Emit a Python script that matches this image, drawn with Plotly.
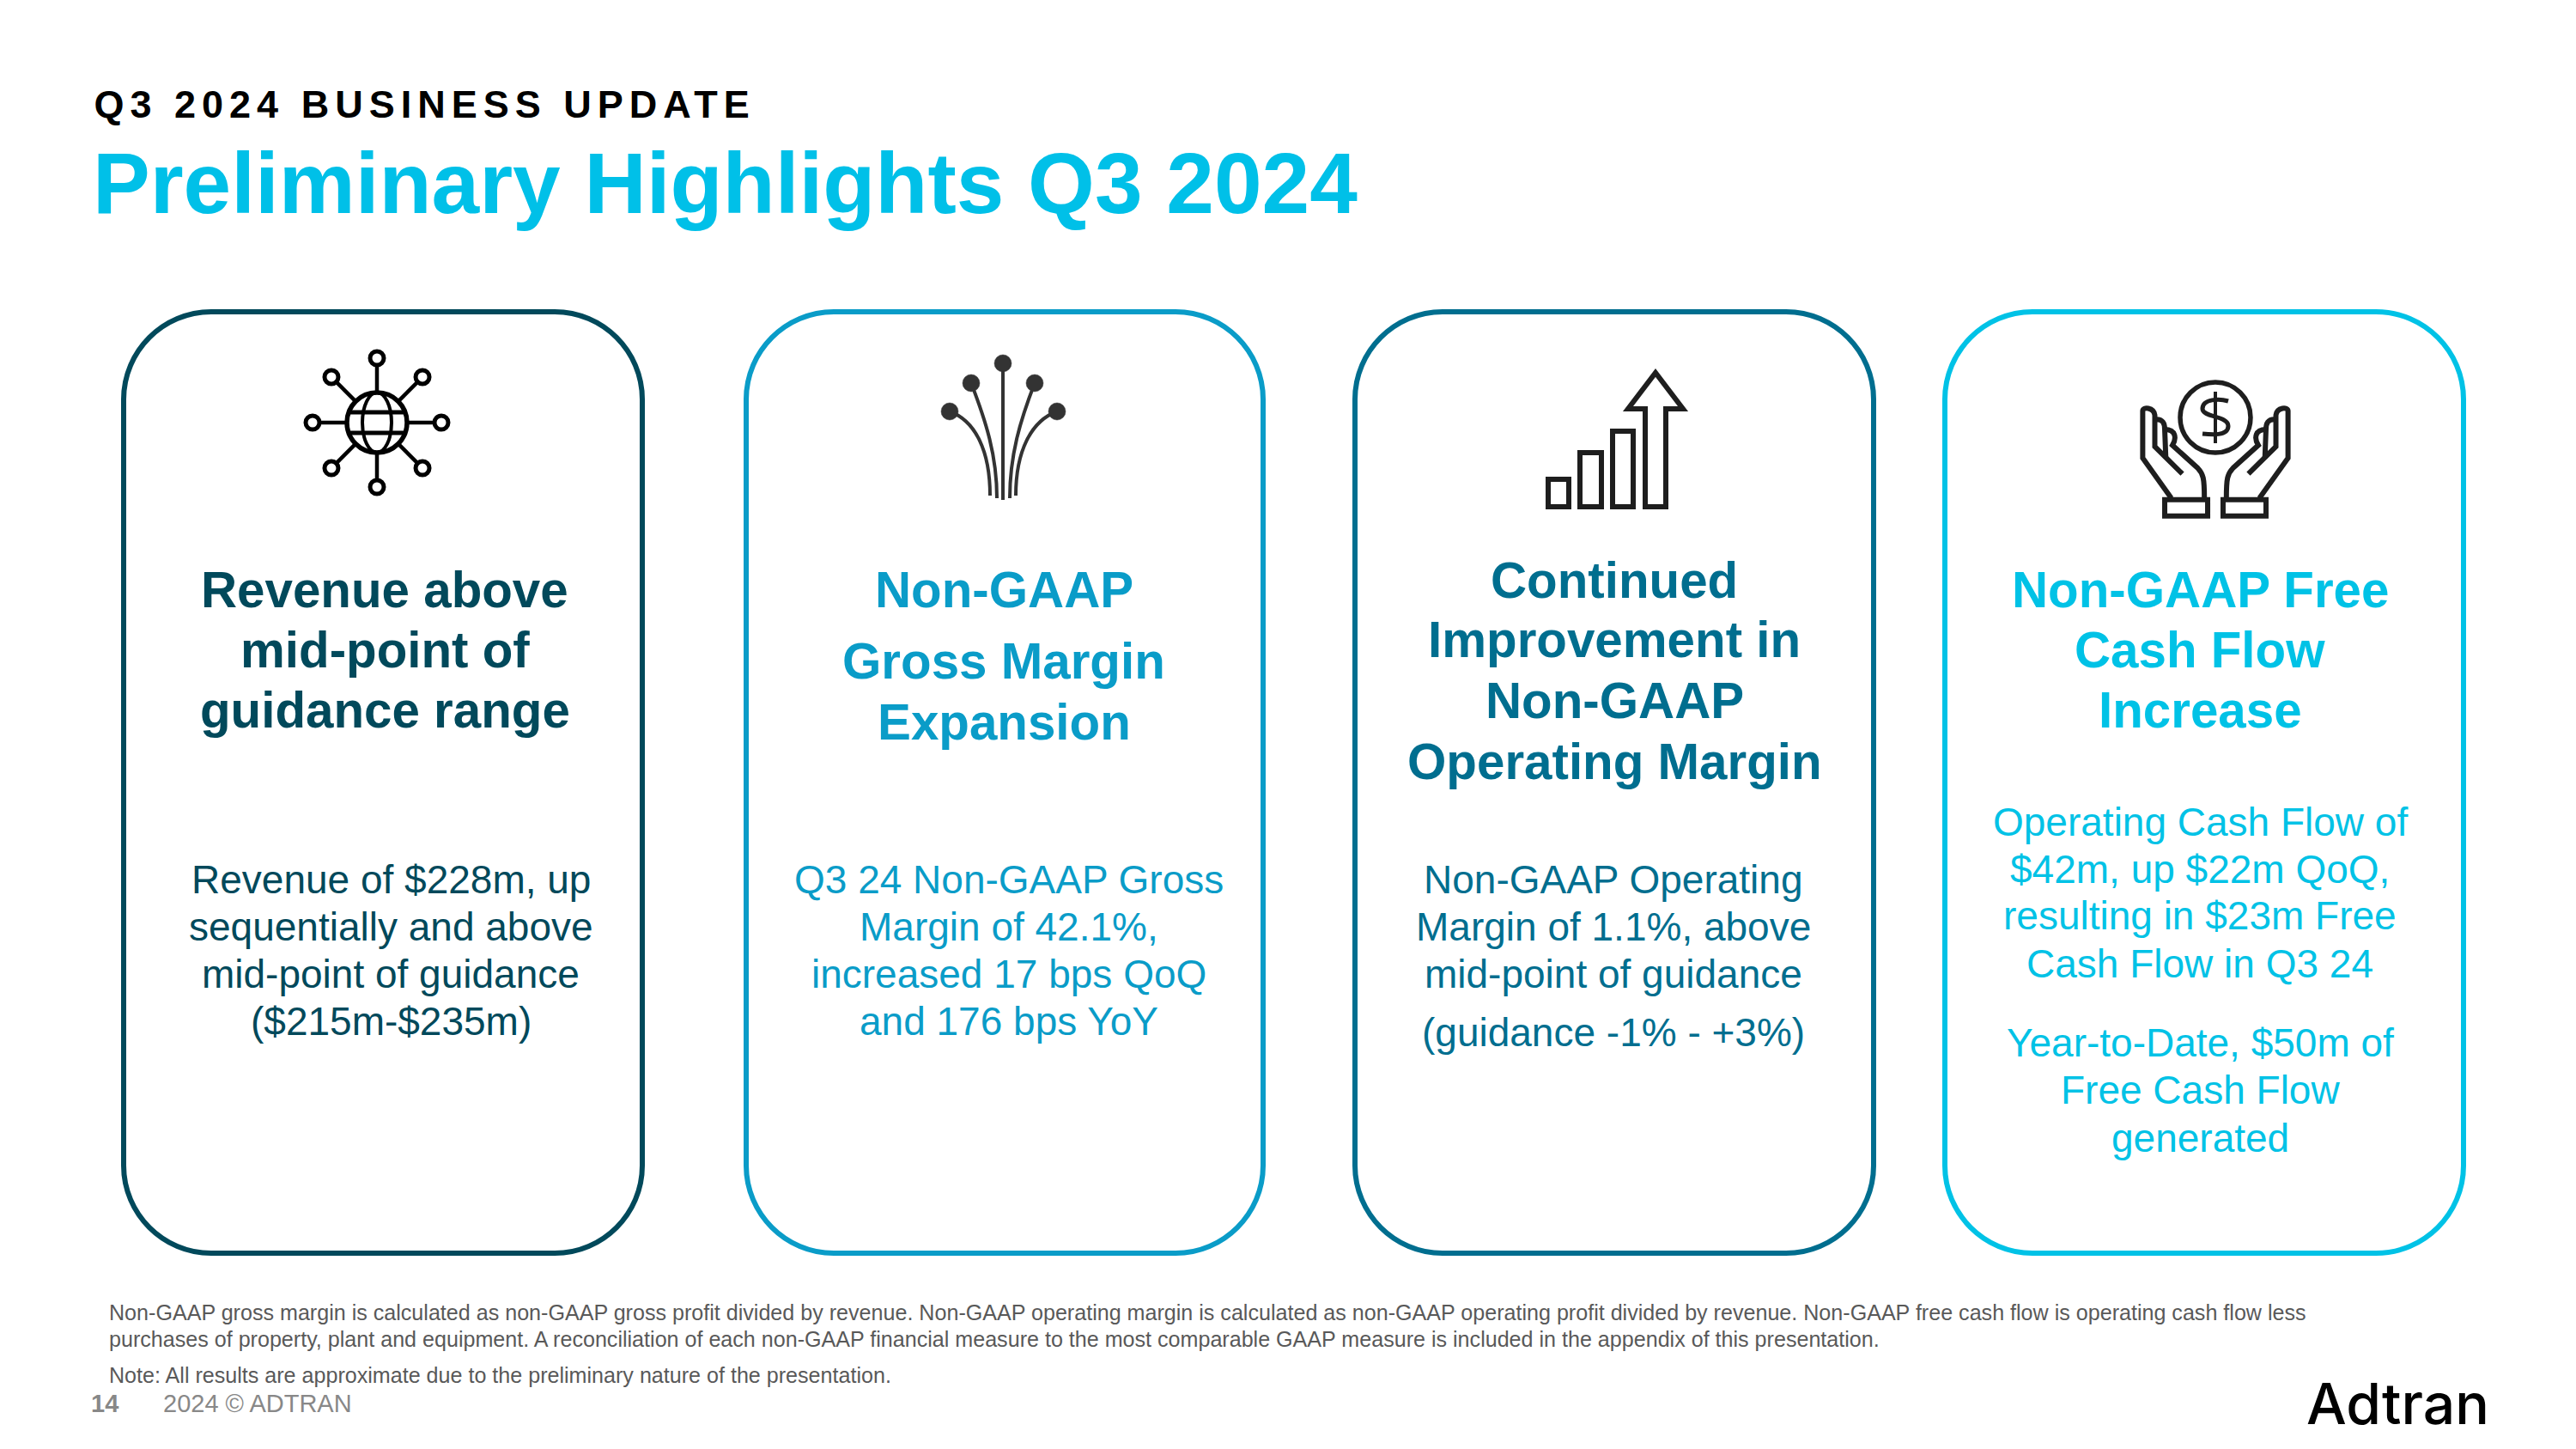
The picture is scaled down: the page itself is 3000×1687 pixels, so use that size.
import math
import plotly.graph_objects as go

EYEBROW = "Q3 2024 BUSINESS UPDATE"
TITLE = "Preliminary Highlights Q3 2024"
HEADS = [
    ["Revenue above", "mid-point of", "guidance range"],
    ["Non-GAAP", "Gross Margin", "Expansion"],
    ["Continued", "Improvement in", "Non-GAAP", "Operating Margin"],
    ["Non-GAAP Free", "Cash Flow", "Increase"],
]
BODIES = [
    ["Revenue of $228m, up", "sequentially and above", "mid-point of guidance", "($215m-$235m)"],
    ["Q3 24 Non-GAAP Gross", "Margin of 42.1%,", "increased 17 bps QoQ", "and 176 bps YoY"],
    ["Non-GAAP Operating", "Margin of 1.1%, above", "mid-point of guidance", "(guidance -1% - +3%)"],
    ["Operating Cash Flow of", "$42m, up $22m QoQ,", "resulting in $23m Free", "Cash Flow in Q3 24",
     "Year-to-Date, $50m of", "Free Cash Flow", "generated"],
]
NOTES = [
    "Non-GAAP gross margin is calculated as non-GAAP gross profit divided by revenue. Non-GAAP operating margin is calculated as non-GAAP operating profit divided by revenue. Non-GAAP free cash flow is operating cash flow less",
    "purchases of property, plant and equipment. A reconciliation of each non-GAAP financial measure to the most comparable GAAP measure is included in the appendix of this presentation.",
    "Note: All results are approximate due to the preliminary nature of the presentation.",
]
PAGE = "14"
COPYRIGHT = "2024 © ADTRAN"
LOGO = "Adtran"

COLORS = ["#01495B", "#0A9CC8", "#006E8F", "#00C2E6"]
CARD_X = [144, 869, 1578, 2265]
CARD_W, CARD_T, CARD_B, R = 604, 363, 1459, 102
HEAD_X = [448, 1169, 1880, 2562]
BODY_X = [455, 1175, 1879, 2562]
HEAD_Y = [[686, 756, 826], [686, 769, 840], [675, 744, 815, 886], [686, 756, 826]]
BODY_Y = [[1024, 1079, 1134, 1189], [1024, 1079, 1134, 1189], [1024, 1079, 1134, 1202],
          [957, 1012, 1066, 1122, 1214, 1269, 1325]]
FONT = "Liberation Sans, Arial, sans-serif"

shapes, ann = [], []


def text(x, y, s, size, color, bold=False, anchor="center", family=FONT, weight=None):
    f = dict(family=family, size=size, color=color)
    if weight:
        f["weight"] = weight
    ann.append(dict(x=x, y=y, xref="x", yref="y", text=f"<b>{s}</b>" if bold else s, showarrow=False,
                    xanchor=anchor, yanchor="middle", borderpad=0, font=f))


def path(d, color, w, fill=None):
    shapes.append(dict(type="path", path=d, xref="x", yref="y", line=dict(color=color, width=w),
                       fillcolor=fill if fill else "rgba(0,0,0,0)"))


def circle(cx, cy, rx, ry, color, w, fill=None):
    shapes.append(dict(type="circle", xref="x", yref="y", x0=cx - rx, x1=cx + rx, y0=cy - ry, y1=cy + ry,
                       line=dict(color=color, width=w), fillcolor=fill if fill else "rgba(0,0,0,0)"))


def line(x0, y0, x1, y1, color, w):
    path(f"M{x0},{y0} L{x1},{y1}", color, w)


# cards
for x, c in zip(CARD_X, COLORS):
    x1 = x + CARD_W - (2 if x == 869 else 0)
    k = R * 0.45
    path(f"M{x+R},{CARD_T} L{x1-R},{CARD_T} C{x1-k},{CARD_T} {x1},{CARD_T+k} {x1},{CARD_T+R} "
         f"L{x1},{CARD_B-R} C{x1},{CARD_B-k} {x1-k},{CARD_B} {x1-R},{CARD_B} "
         f"L{x+R},{CARD_B} C{x+k},{CARD_B} {x},{CARD_B-k} {x},{CARD_B-R} "
         f"L{x},{CARD_T+R} C{x},{CARD_T+k} {x+k},{CARD_T} {x+R},{CARD_T} Z", c, 6)

# icon 1: globe network
gx, gy, ink = 439, 492, "#000000"
for i in range(8):
    a = math.pi / 4 * i
    ca, sa = math.cos(a), math.sin(a)
    line(gx + 36 * ca, gy + 36 * sa, gx + 66 * ca, gy + 66 * sa, ink, 4.5)
    circle(gx + 75 * ca, gy + 75 * sa, 8, 8, ink, 5)
circle(gx, gy, 35, 35, ink, 5.5)
circle(gx, gy, 17, 35, ink, 4)
line(gx - 33, gy - 12, gx + 33, gy - 12, ink, 5)
line(gx - 33, gy + 12, gx + 33, gy + 12, ink, 5)

# icon 2: fibre fan
dark = "#333333"
ox = -4
path(f"M{1172+ox},423 L{1172+ox},582", dark, 4)
path(f"M{1135+ox},446 C{1152+ox},490 {1165+ox},530 {1165+ox},580", dark, 4)
path(f"M{1209+ox},446 C{1192+ox},490 {1180+ox},530 {1180+ox},580", dark, 4)
path(f"M{1110+ox},479 C{1140+ox},490 {1157+ox},525 {1157+ox},577", dark, 4)
path(f"M{1235+ox},479 C{1205+ox},490 {1187+ox},525 {1187+ox},577", dark, 4)
for cx, cy in [(1172, 423), (1135, 446), (1209, 446), (1110, 479), (1235, 479)]:
    circle(cx + ox, cy, 10, 10, dark, 0.5, dark)

# icon 3: bars and arrow
ink3 = "#1E1E1E"
for x0, x1, y0 in [(1803, 1827, 558), (1840, 1865, 527), (1878, 1902, 502)]:
    path(f"M{x0},{y0} L{x1},{y0} L{x1},590 L{x0},590 Z", ink3, 6)
path("M1916,590 L1940,590 L1940,476 L1960,476 L1928,434 L1896,476 L1916,476 Z", ink3, 6)

# icon 4: hands and coin
ink4 = "#1E1E1E"
cx4, cy4 = 2580, 486
circle(cx4, cy4, 41, 41, ink4, 5.5)
path(f"M{cx4+15},467 C{cx4+5},464 {cx4-15},464 {cx4-15},476 C{cx4-15},486 {cx4+15},484 {cx4+15},496 "
     f"C{cx4+15},508 {cx4-5},506 {cx4-15},505", ink4, 5)
line(cx4, 456, cx4, 516, ink4, 4)


def hand(s):
    X = lambda zx: cx4 + s * (zx - 1300) * 0.641
    Y = lambda zy: 400 + zy / 3
    path(f"M{X(1220)},{Y(540)} L{X(1168)},{Y(400)} L{X(1168)},{Y(235)} "
         f"C{X(1168)},{Y(220)} {X(1188)},{Y(222)} {X(1190)},{Y(250)} L{X(1190)},{Y(360)} L{X(1240)},{Y(455)}",
         ink4, 6)
    path(f"M{X(1190)},{Y(265)} C{X(1205)},{Y(262)} {X(1208)},{Y(280)} {X(1208)},{Y(300)} L{X(1210)},{Y(400)}", ink4, 6)
    path(f"M{X(1208)},{Y(300)} C{X(1228)},{Y(300)} {X(1230)},{Y(330)} {X(1222)},{Y(355)} "
         f"L{X(1268)},{Y(435)} C{X(1278)},{Y(455)} {X(1280)},{Y(470)} {X(1280)},{Y(540)}", ink4, 6)
    path(f"M{X(1208)},{Y(545)} L{X(1286)},{Y(545)} L{X(1286)},{Y(602)} L{X(1208)},{Y(602)} Z", ink4, 6)


hand(1)
hand(-1)

# text
text(494, 121, EYEBROW, 45, "#000000", bold=True)
text(107, 213, TITLE, 100, "#00C0E8", bold=True, anchor="left")
for hs, bs, hx, bx, hy, by, c in zip(HEADS, BODIES, HEAD_X, BODY_X, HEAD_Y, BODY_Y, COLORS):
    for s, y in zip(hs, hy):
        text(hx, y, s, 58.3, c, bold=True)
    for s, y in zip(bs, by):
        text(bx, y, s, 46, c)
for s, y in zip(NOTES, [1528, 1559, 1601]):
    text(126, y, s, 25.1, "#595959", anchor="left")
text(105, 1634, PAGE, 29, "#888888", bold=True, anchor="left")
text(189, 1634, COPYRIGHT, 29, "#888888", anchor="left")
text(2792, 1634, LOGO, 66, "#000000", family="Inter, sans-serif", weight=500)

fig = go.Figure()
fig.update_layout(
    width=3000, height=1687, margin=dict(l=0, r=0, t=0, b=0),
    paper_bgcolor="white", plot_bgcolor="white", showlegend=False,
    xaxis=dict(range=[0, 3000], visible=False, fixedrange=True),
    yaxis=dict(range=[1687, 0], visible=False, fixedrange=True),
    shapes=shapes, annotations=ann,
)
POST = """
document.body.style.margin='0';
document.body.style.overflow='hidden';
document.querySelectorAll('.annotation-text').forEach(function(t){
  if(t.textContent.indexOf('BUSINESS UPDATE')>=0){t.style.letterSpacing='7.0px';}
});
"""
fig.write_html("out.html", post_script=POST, config=dict(displayModeBar=False))
